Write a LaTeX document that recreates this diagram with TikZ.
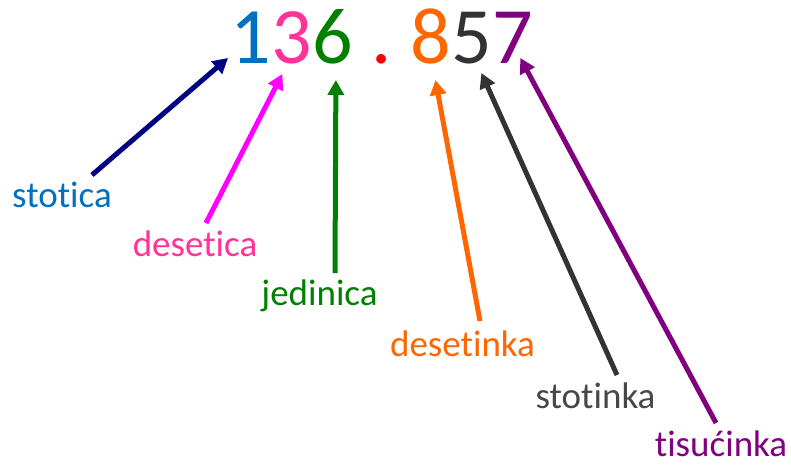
\documentclass[tikz,border=0pt]{standalone}
\usepackage{fontspec}
\setmainfont{Carlito}[Ligatures=NoCommon]
\usepackage{tikz}
\usetikzlibrary{positioning,arrows.meta}

\definecolor{hundBlue}{RGB}{0,112,192}
\definecolor{hundNavy}{RGB}{0,0,128}
\definecolor{tenPink}{RGB}{255,51,153}
\definecolor{tenMagenta}{RGB}{255,0,255}
\definecolor{oneGreen}{RGB}{0,128,0}
\definecolor{dotRed}{RGB}{255,0,0}
\definecolor{tenthOrange}{RGB}{255,102,0}
\definecolor{hundthGray}{RGB}{51,51,51}
\definecolor{thouPurple}{RGB}{128,0,128}

\begin{document}
\begin{tikzpicture}[
      x=1pt, y=-1pt,
      digit/.style={inner sep=0pt, font=\fontsize{80pt}{80pt}\selectfont},
      place/.style={inner sep=0pt, anchor=base, font=\fontsize{37pt}{37pt}\selectfont},
      pointer/.style={line width=5pt,-{Triangle[length=15pt,width=16pt]}}
    ]
    \useasboundingbox (0,0) rectangle (791,464);
    % The number.
    \node[digit, anchor=base, text=hundBlue] (d1) at (251,63) {1};
    \node[digit, base right=0pt of d1, text=tenPink] (d3) {3};
    \node[digit, base right=0pt of d3, text=oneGreen] (d6) {6};
    \node[digit, base right=0pt of d6, text=dotRed] (dot) {\kern18pt.\kern18pt};
    \node[digit, base right=0pt of dot, text=tenthOrange] (d8) {8};
    \node[digit, base right=0pt of d8, text=hundthGray] (d5) {5};
    \node[digit, base right=0pt of d5, text=thouPurple] (d7) {7};
    % The place names.
    \node[place, text=hundBlue]    (stotica)   at (62,207)  {stotica};
    \node[place, text=tenPink]     (desetica)  at (195,256) {desetica};
    \node[place, text=oneGreen]    (jedinica)  at (319.5,305) {jedinica};
    \node[place, text=tenthOrange] (desetinka) at (462.5,356) {desetinka};
    \node[place, text=hundthGray!90!white] (stotinka) at (595.5,408) {stotinka};
    \node[place, text=thouPurple]  (tisucinka) at (721,456) {tisućinka};
    % The pointers.
    \draw[pointer, hundNavy]    ([shift={(30,-32)}]stotica.base)    -- ([shift={(-23,-5)}]d1.base);
    \draw[pointer, tenMagenta]  ([shift={(11,-33)}]desetica.base)   -- ([shift={(-9.6,11)}]d3.base);
    \draw[pointer, oneGreen]    ([shift={(15.5,-32)}]jedinica.base) -- ([shift={(3,17)}]d6.base);
    \draw[pointer, tenthOrange] ([shift={(17.5,-35)}]desetinka.base) -- ([shift={(5,17)}]d8.base);
    \draw[pointer, hundthGray]  ([shift={(21.5,-33)}]stotinka.base) -- ([shift={(10,10)}]d5.base);
    \draw[pointer, thouPurple]  ([shift={(-5,-33)}]tisucinka.base)  -- ([shift={(8,-5)}]d7.base);
\end{tikzpicture}
\end{document}
